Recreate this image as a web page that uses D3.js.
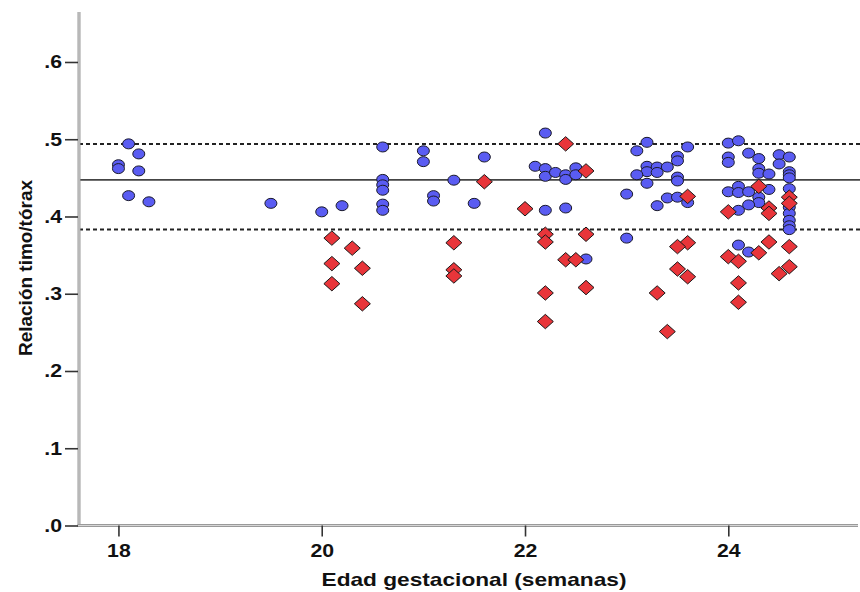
<!DOCTYPE html>
<html>
<head>
<meta charset="utf-8">
<script src="https://cdn.jsdelivr.net/npm/d3@7"></script>
<style>
  html, body { margin: 0; padding: 0; background: #fff; }
  svg { display: block; }
  text { font-family: "Liberation Sans", Arial, sans-serif; font-weight: bold; fill: #111; }
</style>
</head>
<body>
<svg id="chart" width="860" height="592"></svg>
<script>
// ---- data ----
const normalWeeks = [18.1,18.2,18.0,18.0,18.2,18.1,18.3,19.5,20.0,20.2,
  20.6,20.6,20.6,20.6,20.6,20.6,21.0,21.0,21.1,21.1,21.3,21.6,21.5,
  22.2,22.1,22.2,22.2,22.3,22.4,22.4,22.5,22.5,22.2,22.4,22.6,
  23.0,23.0,23.2,23.1,23.6,23.5,23.5,23.2,23.3,23.4,23.2,23.3,23.1,23.5,23.5,23.2,23.4,23.5,23.6,23.3,
  24.0,24.1,24.0,24.0,24.2,24.3,24.3,24.3,24.4,24.5,24.5,24.6,24.6,24.6,24.6,
  24.0,24.1,24.1,24.2,24.4,24.3,24.3,24.2,24.1,24.6,24.6,24.6,24.6,24.6,24.6,24.1,24.2];
const normalRatio = [0.494,0.481,0.467,0.462,0.459,0.427,0.419,0.417,0.406,0.414,
  0.490,0.448,0.441,0.434,0.416,0.408,0.485,0.471,0.427,0.420,0.447,0.477,0.417,
  0.508,0.465,0.462,0.452,0.457,0.454,0.448,0.463,0.454,0.408,0.411,0.345,
  0.429,0.372,0.496,0.485,0.490,0.478,0.472,0.465,0.464,0.464,0.458,0.457,0.454,0.451,0.446,0.443,0.424,0.425,0.418,0.414,
  0.495,0.498,0.477,0.470,0.482,0.475,0.462,0.456,0.455,0.480,0.468,0.477,0.458,0.454,0.450,
  0.432,0.439,0.431,0.432,0.435,0.425,0.418,0.415,0.408,0.436,0.412,0.404,0.395,0.388,0.383,0.363,0.354];

const lowWeeks = [20.1,20.1,20.1,20.3,20.4,20.4,21.3,21.3,21.3,21.6,22.0,
  22.4,22.6,22.2,22.2,22.6,22.4,22.5,22.6,22.2,22.2,
  23.6,23.6,23.5,23.5,23.6,23.3,23.4,
  24.3,24.6,24.6,24.4,24.4,24.0,24.4,24.6,24.3,24.0,24.1,24.6,24.5,24.1,24.1];
const lowRatio = [0.372,0.339,0.313,0.359,0.333,0.287,0.366,0.331,0.323,0.445,0.410,
  0.494,0.459,0.377,0.367,0.377,0.344,0.344,0.308,0.301,0.264,
  0.426,0.366,0.361,0.332,0.322,0.301,0.251,
  0.439,0.425,0.417,0.411,0.404,0.406,0.367,0.361,0.353,0.348,0.342,0.335,0.326,0.314,0.289];

const refValues = [0.4473, 0.4939, 0.3832];
const refDashed = [false, true, true];

const xTicks = [18, 20, 22, 24];
const xTickLabels = ["18", "20", "22", "24"];
const yTicks = [0, 0.1, 0.2, 0.3, 0.4, 0.5, 0.6];
const yTickLabels = [".0", ".1", ".2", ".3", ".4", ".5", ".6"];

const xTitle = "Edad gestacional (semanas)";
const yTitle = "Relación timo/tórax";

// ---- layout ----
const svg = d3.select("#chart");
const plotLeft = 79, plotRight = 858, plotTop = 12, plotBottom = 525.5;
const stretch = 1.15;
const fontSize = 18.5;

const x = d3.scaleLinear().domain([17.612, 25.276]).range([plotLeft, plotRight]);
const y = d3.scaleLinear().domain([0, 0.6647]).range([plotBottom, plotTop]);

// reference lines
refValues.forEach((v, i) => {
  svg.append("line")
    .attr("x1", plotLeft).attr("x2", 860)
    .attr("y1", y(v)).attr("y2", y(v))
    .attr("stroke", refDashed[i] ? "#222" : "#444")
    .attr("stroke-width", refDashed[i] ? 2 : 1.8)
    .attr("stroke-dasharray", refDashed[i] ? "4,3" : null);
});

// axis lines (gray double-look)
function axisLine(x1, y1, x2, y2) {
  svg.append("line").attr("x1", x1).attr("y1", y1).attr("x2", x2).attr("y2", y2)
    .attr("stroke", "#9a9a9a").attr("stroke-width", 3);
  svg.append("line").attr("x1", x1).attr("y1", y1).attr("x2", x2).attr("y2", y2)
    .attr("stroke", "#d6d6d6").attr("stroke-width", 1);
}
axisLine(plotLeft, plotTop, plotLeft, plotBottom + 1.5);
axisLine(plotLeft - 1.5, plotBottom, plotRight, plotBottom);

// y axis
const yAxis = d3.axisLeft(y).tickValues(yTicks)
  .tickFormat((d, i) => yTickLabels[i]).tickSize(13).tickPadding(3);
const gy = svg.append("g").attr("transform", `translate(${plotLeft - 1},0)`).call(yAxis);
gy.select(".domain").remove();
gy.selectAll(".tick line").attr("stroke", "#333").attr("stroke-width", 1.6);
gy.selectAll(".tick text")
  .style("font-size", fontSize + "px").style("font-weight", "bold")
  .attr("fill", "#111")
  .each(function() {
    const t = d3.select(this);
    t.attr("x", +t.attr("x") / stretch).attr("transform", `scale(${stretch},1)`);
  });

// x axis
const xAxis = d3.axisBottom(x).tickValues(xTicks)
  .tickFormat((d, i) => xTickLabels[i]).tickSize(11).tickPadding(7);
const gx = svg.append("g").attr("transform", `translate(0,${plotBottom})`).call(xAxis);
gx.select(".domain").remove();
gx.selectAll(".tick line").attr("stroke", "#333").attr("stroke-width", 1.6);
gx.selectAll(".tick text")
  .style("font-size", fontSize + "px").style("font-weight", "bold")
  .attr("fill", "#111")
  .attr("transform", `scale(${stretch},1)`);

// titles
svg.append("text")
  .attr("x", 474).attr("y", 586)
  .attr("text-anchor", "middle")
  .attr("textLength", 305).attr("lengthAdjust", "spacingAndGlyphs")
  .style("font-size", "19px")
  .text(xTitle);

svg.append("text")
  .attr("transform", `translate(32,268) rotate(-90)`)
  .attr("text-anchor", "middle")
  .attr("textLength", 176).attr("lengthAdjust", "spacingAndGlyphs")
  .style("font-size", "18.5px")
  .text(yTitle);

// points
const normal = normalWeeks.map((w, i) => ({ w, v: normalRatio[i] }));
const low = lowWeeks.map((w, i) => ({ w, v: lowRatio[i] }));

svg.append("g").selectAll("ellipse").data(normal).join("ellipse")
  .attr("cx", d => x(d.w)).attr("cy", d => y(d.v))
  .attr("rx", 6).attr("ry", 5)
  .attr("fill", "#5a5cf2").attr("stroke", "#1a1a2a").attr("stroke-width", 1);

svg.append("g").selectAll("path").data(low).join("path")
  .attr("transform", d => `translate(${x(d.w)},${y(d.v)})`)
  .attr("d", "M0,-7.2 L8,0 L0,7.2 L-8,0 Z")
  .attr("fill", "#e8353a").attr("stroke", "#1a1a1a").attr("stroke-width", 1);
</script>
</body>
</html>
